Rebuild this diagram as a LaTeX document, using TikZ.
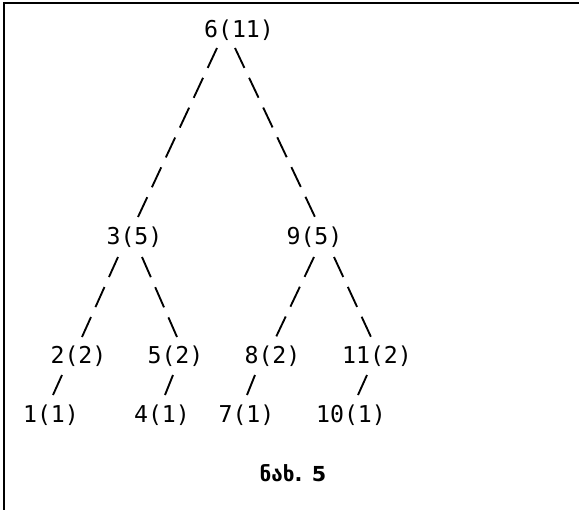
\documentclass[tikz,border=0pt]{standalone}
\usepackage{fontspec}
\setmainfont{DejaVu Sans}
\setmonofont{DejaVu Sans Mono}
\newfontfamily\geofont{DejaVu Sans}
\begin{document}
\begin{tikzpicture}[x=0.75pt,y=-0.75pt,
  lbl/.style={font=\ttfamily\fontsize{17.4pt}{20pt}\selectfont, inner sep=0pt, anchor=base},
  edge/.style={line width=1.4pt, dash pattern=on 16.5pt off 8.2pt},
  frame/.style={line width=2.2pt},
  caption/.style={font=\geofont\bfseries\fontsize{15.5pt}{18pt}\selectfont, inner sep=0pt, anchor=base}]
\useasboundingbox (0,0) rectangle (579,510);
\draw[frame] (4,512) -- (4,3) -- (581,3);
% labels
\node[lbl] (n6)  at (239,37.7)    {6(11)};
\node[lbl] (n3)  at (134.5,244.9) {3(5)};
\node[lbl] (n9)  at (314.5,244.9) {9(5)};
\node[lbl] (n2)  at (78.5,363.3)  {2(2)};
\node[lbl] (n5)  at (175.5,363.3) {5(2)};
\node[lbl] (n8)  at (272.5,363.3) {8(2)};
\node[lbl] (n11) at (377,363.3)   {11(2)};
\node[lbl] (n1)  at (51,422.5)    {1(1)};
\node[lbl] (n4)  at (162,422.5)   {4(1)};
\node[lbl] (n7)  at (246.5,422.5) {7(1)};
\node[lbl] (n10) at (351,422.5)   {10(1)};
% connectors
\draw[edge] ([shift={(-22,10.3)}]n6.base) -- ([shift={(3.5,-27.9)}]n3.base);
\draw[edge] ([shift={(-4,10.3)}]n6.base) -- ([shift={(0.5,-27.9)}]n9.base);
\draw[edge] ([shift={(-16.5,12.1)}]n3.base) -- ([shift={(3.5,-26.3)}]n2.base);
\draw[edge] ([shift={(7.5,12.1)}]n3.base) -- ([shift={(1.5,-26.3)}]n5.base);
\draw[edge] ([shift={(-0.5,12.1)}]n9.base) -- ([shift={(3.5,-26.3)}]n8.base);
\draw[edge] ([shift={(19.5,12.1)}]n9.base) -- ([shift={(-6,-26.3)}]n11.base);
\draw[edge] ([shift={(-16.5,11.7)}]n2.base) -- ([shift={(2,-27.5)}]n1.base);
\draw[edge] ([shift={(-2.5,11.7)}]n5.base) -- ([shift={(3,-27.5)}]n4.base);
\draw[edge] ([shift={(-17.5,11.7)}]n8.base) -- ([shift={(0.5,-27.5)}]n7.base);
\draw[edge] ([shift={(-10,11.7)}]n11.base) -- ([shift={(7,-27.5)}]n10.base);
% caption
\node[caption] (cap) at (293,481) {ნახ. 5};
\end{tikzpicture}
\end{document}
